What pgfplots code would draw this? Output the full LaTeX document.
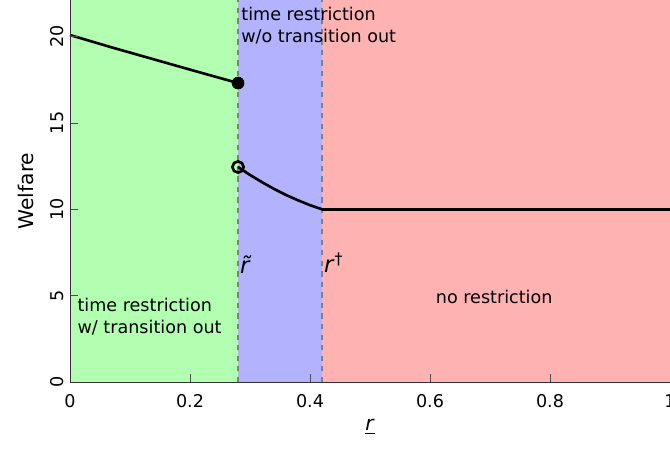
\documentclass[border=0pt]{standalone}
\usepackage{fontspec}
\setmainfont{DejaVu Sans}
\usepackage{pgfplots}
\pgfplotsset{compat=1.18}
\begin{document}
\begin{tikzpicture}
\begin{axis}[
  scale only axis,
  width=12cm, height=7.64cm,
  xmin=0, xmax=1, ymin=0, ymax=22.12,
  axis x line*=bottom, axis y line*=left,
  xtick={0,0.2,0.4,0.6,0.8,1},
  xticklabels={0,0.2,0.4,0.6,0.8,1},
  ytick={0,5,10,15,20},
  yticklabel style={rotate=90},
  xticklabel style={yshift=-0.12cm},
  /pgf/number format/assume math mode=true,
  tick label style={font=\fontsize{10}{12}\selectfont},
  label style={font=\fontsize{11.5}{13}\selectfont},
  xlabel={\underline{\textit{r}}},
  ylabel={Welfare},
  ylabel style={yshift=0.1cm},
  axis on top,
  tick style={color=black!70},
  axis line style={color=black!80, -},
  clip=false,
]
\addplot[draw=none, fill=green!30] coordinates {(0,22.12) (0.28,22.12)} \closedcycle;
\addplot[draw=none, fill=blue!30] coordinates {(0.28,22.12) (0.42,22.12)} \closedcycle;
\addplot[draw=none, fill=red!30] coordinates {(0.42,22.12) (1,22.12)} \closedcycle;
\addplot[black!50, dashed, semithick] coordinates {(0.28,0) (0.28,22.12)};
\addplot[black!50, dashed, semithick] coordinates {(0.42,0) (0.42,22.12)};
\addplot[black, line width=1.5pt] coordinates {
 (0,20.09) (0.07,19.37) (0.14,18.68) (0.21,17.99) (0.28,17.31)};
\addplot[black, line width=1.5pt] coordinates {
 (0.28,12.45) (0.30,11.99) (0.32,11.57) (0.34,11.18) (0.36,10.83) (0.38,10.52) (0.40,10.24) (0.42,10.0)};
\addplot[black, line width=1.5pt] coordinates {(0.42,10.0) (1,10.0)};
\addplot[only marks, mark=*, mark size=3.4pt, black] coordinates {(0.28,17.31)};
\addplot[only marks, mark=o, mark size=3.2pt, black, line width=1.5pt] coordinates {(0.28,12.45)};
\node[anchor=north west, align=left, font=\fontsize{10}{12.5}\selectfont, inner sep=0pt] at (axis cs:0.285,21.7) {time restriction\\w/o transition out};
\node[anchor=north west, align=left, font=\fontsize{10}{12.5}\selectfont, inner sep=0pt] at (axis cs:0.012,4.9) {time restriction\\w/ transition out};
\node[font=\fontsize{10}{12}\selectfont] at (axis cs:0.707,4.95) {no restriction};
\node[anchor=west, font=\fontsize{13}{15}\selectfont, inner sep=0pt] at (axis cs:0.283,6.8) {\textit{\~r}};
\node[anchor=west, font=\fontsize{13}{15}\selectfont, inner sep=0pt] at (axis cs:0.423,6.9) {\textit{r}\textsuperscript{†}};
\coordinate (bl) at (axis cs:-0.1167,-3.94);
\coordinate (tr) at (axis cs:1,22.12);
\end{axis}
\pgfresetboundingbox
\useasboundingbox (bl) rectangle (tr);
\end{tikzpicture}
\end{document}
